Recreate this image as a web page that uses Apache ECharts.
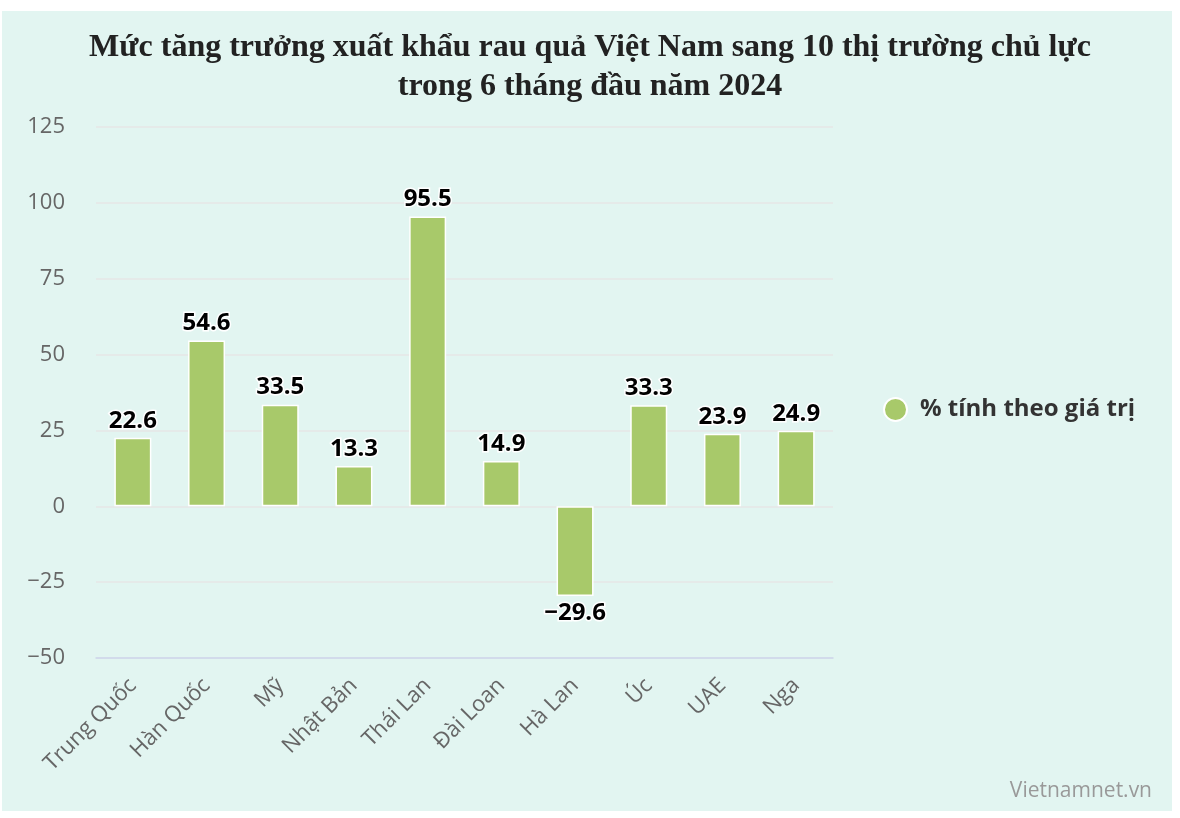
<!DOCTYPE html>
<html><head><meta charset="utf-8">
<script src="https://cdn.jsdelivr.net/npm/echarts@6/dist/echarts.min.js"></script>
<style>html,body{margin:0;padding:0;background:#fff}#c{width:1180px;height:818px}</style>
</head><body><div id="c"></div>
<script>
const categories = ['Trung Quốc','Hàn Quốc','Mỹ','Nhật Bản','Thái Lan','Đài Loan','Hà Lan','Úc','UAE','Nga'];
const values = [22.6, 54.6, 33.5, 13.3, 95.5, 14.9, -29.6, 33.3, 23.9, 24.9];
const seriesName = '% tính theo giá trị';
const titleLines = ['Mức tăng trưởng xuất khẩu rau quả Việt Nam sang 10 thị trường chủ lực', 'trong 6 tháng đầu năm 2024'];
const credit = 'Vietnamnet.vn';

const chart = echarts.init(document.getElementById('c'));
const sans = '"Open Sans", "DejaVu Sans", sans-serif';
chart.setOption({
  animation: false,
  graphic: [
    {type:'rect', shape:{x:2, y:11, width:1170, height:800}, style:{fill:'#e2f5f1'}, z:-10},
    {type:'text', right: 28, top: 781, style:{text: credit, fill:'#999', font:'21px ' + sans}}
  ],
  title: {
    text: titleLines.join('\n'),
    left: 'center', top: 23,
    textStyle: {fontFamily:'"Liberation Serif", "DejaVu Serif", serif', fontWeight:'bold', fontSize:32, color:'#222', lineHeight:39}
  },
  legend: {
    data: [seriesName], orient:'vertical', left: 878, top: 392,
    icon: 'circle', itemWidth: 23, itemHeight: 23, itemGap: 10,
    textStyle: {fontFamily: sans, fontWeight:'bold', fontSize:24, color:'#333', padding:[0,0,0,8]}
  },
  grid: {left: 96, top: 127, width: 737, height: 531, containLabel: false},
  xAxis: {
    type:'category', data: categories,
    axisLine: {onZero:false, lineStyle:{color:'#ccd6eb', width:1.5}},
    axisTick: {show:false},
    axisLabel: {rotate:45, interval:0, fontFamily: sans, fontSize:22, color:'#666', margin:24}
  },
  yAxis: {
    type:'value', min:-50, max:125, interval:25,
    axisLine:{show:false}, axisTick:{show:false},
    splitLine:{lineStyle:{color:'#e6e6e6', width:1.5}},
    axisLabel:{fontFamily: sans, fontSize:22, color:'#666', margin:31,
      formatter: v => v < 0 ? '−' + Math.abs(v) : String(v)}
  },
  series: [{
    name: seriesName, type:'bar', data: values, barWidth: 37,
    itemStyle: {color:'#a8c96a', borderColor:'#fff', borderWidth:1.5},
    label: {show:true, position:'outside', fontFamily: sans, fontWeight:'bold', fontSize:24, color:'#000',
      textBorderColor:'#fff', textBorderWidth:3, distance:5,
      formatter: p => p.value < 0 ? '−' + Math.abs(p.value) : String(p.value)}
  }]
});
</script></body></html>
